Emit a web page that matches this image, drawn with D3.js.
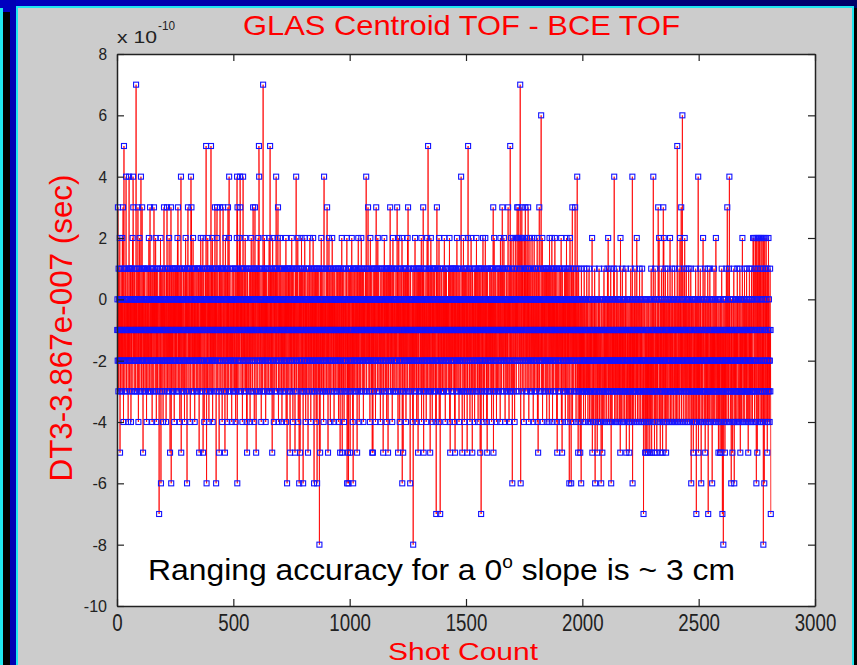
<!DOCTYPE html>
<html><head><meta charset="utf-8">
<script src="https://cdn.jsdelivr.net/npm/d3@7"></script>
<style>html,body{margin:0;padding:0;background:#000;overflow:hidden}</style>
</head><body>
<svg id="chart" width="857" height="665"></svg>
<script>
// ---- tick values ----
const xTicks = [0, 500, 1000, 1500, 2000, 2500, 3000];
const yTicks = [-10, -8, -6, -4, -2, 0, 2, 4, 6, 8];

// ---- DT3 - 3.867e-007, in units of 1e-10 s, one value per shot ----
const dt3Shots0001to0500 = [
-1,0,-2,3,-1,-3,1,-2,0,-1,-2,2,-5,-1,0,-3,-1,1,-2,0,
-1,-3,2,-2,0,3,-1,-4,1,5,-2,-1,0,-3,1,-1,-2,0,4,-1,
-3,0,-1,0,-2,1,-1,-4,0,-2,1,4,-1,-3,0,-2,1,-1,1,-4,
0,-2,-1,1,-3,0,2,-1,4,3,-2,0,-1,-3,1,-2,0,-1,0,-3,
-1,7,-2,0,-1,1,-3,-2,0,3,-1,-4,1,-2,0,-1,2,-3,-1,0,
-2,1,4,-1,-3,0,-2,3,-1,0,-2,-5,1,-1,-3,1,0,-2,-1,1,
-3,-1,0,-2,0,-1,-4,0,1,-2,-1,0,-3,1,-2,-1,2,0,-3,-1,
0,3,-2,-1,1,-3,0,-2,-1,1,-4,0,-1,1,-2,-3,0,-1,3,-2,
1,-1,0,-3,-2,2,-1,0,-4,1,-2,-1,0,-3,1,-1,-2,0,0,-1,
-7,-2,0,1,-1,-3,2,-2,-6,0,-1,1,-3,-2,0,-1,1,-4,-1,0,
-2,3,-1,0,-3,1,-2,-1,0,0,-4,-1,1,-2,3,0,-3,-1,1,-2,
0,-1,-3,2,-2,0,1,-5,-1,0,-2,3,-6,-1,1,-3,0,-2,-1,1,
-3,0,-1,1,-2,-4,0,-1,1,-2,1,-3,-1,0,-2,1,-1,-3,0,2,
-1,3,-2,0,-3,1,-1,-2,0,-4,1,-1,0,-2,4,-5,0,-1,1,-3,
-2,0,0,-1,-3,1,0,-2,-1,-4,0,1,-2,-1,2,-3,0,-1,1,-2,
-6,0,-1,1,3,-2,-1,0,-3,1,-1,-2,1,0,-4,-1,0,4,-2,3,
-1,0,-3,1,-2,-1,2,0,-3,-1,1,-2,0,-4,-1,1,-2,0,0,-1,
-3,0,1,-2,-1,0,-3,1,-1,-2,1,0,-5,-1,-2,1,0,-3,-1,2,
-2,0,-1,1,-3,-2,0,-1,2,-5,0,-1,1,-2,-4,0,-1,0,-3,1,
-1,0,5,-2,-6,0,1,-1,-3,2,-2,0,-1,1,-4,-2,0,-1,1,-3,
0,-2,-1,5,-3,1,0,-2,-1,2,-4,0,1,-1,-2,0,-3,1,-1,-2,
3,-1,0,-2,1,-6,0,-1,2,3,-3,-1,0,1,-2,-1,0,-3,-5,0,
1,-2,3,-1,0,-3,1,-2,-1,0,1,-4,-1,0,1,3,-2,-1,0,-3,
1,-1,-2,-5,0,2,-1,-3,0,1,-2,-1,0,-4,1,-2,3,-1,0,-3,
2,4,-1,-2,0,1,-3,-1,0,-2,0,-1,-4,0,1,-2,-1,0,-3,1
];
const dt3Shots0501to1000 = [
-1,0,-2,0,-3,-1,1,0,-2,-4,1,-1,0,-3,2,4,-6,3,-1,0,
-2,1,-1,-3,0,2,-2,-1,4,3,-1,0,-3,1,-2,0,-1,1,-4,0,
1,4,-2,-1,0,-3,1,-2,0,-1,2,-3,-1,0,1,-2,-4,0,-5,-1,
1,-2,0,-1,0,-3,-1,0,1,-2,-1,-4,0,1,-3,-1,2,0,-2,-1,
0,-3,1,-1,3,-2,0,-1,1,-4,-1,0,3,-2,1,-1,-3,-5,0,1,
-1,-2,0,1,-3,-1,2,0,-2,5,4,-1,0,-3,1,-2,-1,0,0,-4,
0,-1,1,-2,-3,0,-1,7,-2,0,1,-1,-3,2,-2,0,-1,1,-4,0,
-2,1,-1,0,-3,0,-1,-2,0,1,-1,-3,0,2,-2,-1,0,5,-3,1,
-1,0,-2,1,-3,-1,-5,0,2,-2,-1,0,1,-4,-2,0,-1,1,-3,0,
1,-2,-1,4,0,-3,1,-1,-2,0,2,3,-1,-4,0,-2,1,-1,0,-3,
2,-1,0,-2,1,-3,-1,0,-4,1,-2,-1,0,0,-3,-1,1,-2,0,-1,
-3,1,-2,0,-1,2,-4,0,-1,1,-6,-2,0,-1,1,-3,1,-1,0,-2,
-1,1,-3,-5,0,-2,1,-1,0,-3,2,-2,-1,0,1,-4,-1,0,-2,1,
-1,0,-3,0,-5,-1,0,1,-2,4,-1,-3,0,1,-2,-1,2,0,-4,-1,
0,-2,-6,1,-1,0,-5,-2,1,-1,0,-3,2,-1,-2,0,1,-3,-1,-6,
0,-1,1,-2,-3,0,2,-1,-2,0,-4,1,-1,0,-3,0,-2,-1,0,1,
-5,-1,0,-2,1,-3,-1,0,2,-2,-1,0,-4,1,-1,-2,0,-3,1,-1,
0,-2,2,-1,-3,0,-6,1,-1,-2,0,-3,1,-1,0,-4,1,-2,-1,-6,
0,1,-2,-1,0,-3,1,-1,-2,-8,0,-1,-5,1,-2,0,-1,2,-3,0,
-1,1,-2,0,-3,-1,0,-4,1,4,-2,-1,0,-3,0,-1,0,-2,1,-1,
-3,0,3,-1,-2,1,-5,0,-1,-2,2,-3,0,-1,1,-2,-4,0,-1,1,
-2,0,-1,-3,2,-1,0,-2,1,-1,-3,0,-4,1,-1,0,-2,0,-1,-3,
0,1,-2,-1,0,-3,1,-2,-1,0,1,-4,-1,0,-2,1,-3,-1,-5,0,
1,-2,-1,0,-3,2,-1,-5,0,1,-2,-1,0,-3,1,-4,-1,0,0,-2,
-1,0,-3,1,-2,-1,0,2,-6,-1,-3,0,-5,1,-6,-2,0,-1,1,-3
];
const dt3Shots1001to1500 = [
-1,-5,0,1,-2,-1,-3,0,2,-1,-2,0,-4,1,-6,-1,0,-2,1,-3,
-1,0,1,-2,-1,0,-3,1,-1,-2,0,-5,1,-1,-3,0,2,-2,-1,0,
-4,1,-1,0,-2,-3,1,0,-1,2,-2,-1,0,-3,1,-1,-2,0,-4,1,
-1,0,-2,0,-3,-1,0,1,-2,-1,4,0,-3,-1,1,-2,0,-1,3,-2,
0,-1,-3,1,-2,0,-4,-1,2,0,-2,-1,1,-3,0,-1,-5,-2,0,-5,
1,-1,-2,0,-3,1,-1,0,-2,1,-4,-1,0,3,-2,-1,1,0,-3,-1,
2,-2,0,-1,1,-3,-1,0,-2,0,-1,-4,0,1,-2,-1,0,-3,1,-1,
0,-2,-1,-5,1,0,-3,-1,2,-2,0,-1,1,-3,-2,0,-1,1,-4,0,
-1,1,-2,0,-5,-1,1,-3,0,-2,-1,1,0,3,-1,-3,1,-2,0,-1,
-2,1,-4,0,-1,2,-3,-1,0,1,-2,-1,0,-3,0,-1,-2,0,1,-3,
-1,0,-2,3,-1,1,-3,-5,0,-1,2,-2,0,-1,-4,1,-2,0,-1,-3,
1,0,-2,-1,2,-6,0,-1,-3,-5,1,-2,0,-1,1,-3,-1,0,-2,1,
-1,-4,0,1,-2,-1,0,-3,2,-1,3,-2,0,-1,1,-3,-2,0,-1,-6,
0,1,-2,-1,-3,0,0,-1,-2,0,-4,1,-8,-1,0,-2,1,-3,-1,0,
2,-2,-1,0,-3,1,-1,-4,0,-2,1,-1,0,-5,-2,1,-3,0,-1,1,
-1,0,-3,1,-2,-1,0,2,-4,-1,0,-2,1,-3,-1,3,0,-5,1,-2,
-1,0,-3,0,-2,-1,0,1,-4,-1,0,-2,2,-3,-1,0,5,-2,-1,1,
-3,0,-1,-2,1,-5,0,-1,2,-3,-2,0,1,-1,-4,0,-2,1,-1,0,
-3,1,-1,-2,0,1,-3,-1,0,-4,-2,-7,1,-1,3,-2,0,-1,1,-3,
0,-2,-1,2,-4,0,-1,1,-7,-2,0,-1,-3,1,-2,0,0,-1,-3,0,
-1,1,-2,0,-3,-1,2,-2,0,-1,-4,1,-1,0,-2,1,-3,0,-1,0,
-2,-1,0,-3,1,-1,-2,0,2,-4,-1,-5,0,1,-2,-1,0,-3,1,-1,
0,-2,1,-1,-3,0,1,-2,-1,0,-4,1,-5,-1,0,-2,1,-3,-1,0,
2,-2,-1,0,-3,1,-1,-2,0,-4,1,-1,0,-2,0,-3,-1,0,4,-2,
-1,0,-3,-5,1,-1,0,-2,2,-1,-3,0,-4,1,-2,-1,0,1,-3,-1
];
const dt3Shots1501to2000 = [
0,-2,1,-1,-5,0,-3,2,5,-1,-2,0,1,-3,-1,0,-4,1,-2,-1,
0,2,-3,-1,0,-2,-5,1,-1,0,-3,0,-2,-1,0,1,-4,-1,0,-2,
1,-3,-1,0,2,-2,-1,0,-3,1,-1,-4,0,-2,1,-1,0,-3,1,-2,
-5,0,-1,1,-7,-2,0,-1,-3,1,-2,0,2,-1,-4,0,-1,1,-3,-2,
0,-1,2,-2,-1,0,-3,1,-4,-1,-5,0,1,-2,-1,0,-3,0,-1,0,
-2,1,-1,-3,0,-2,1,-1,0,-4,1,-1,-2,0,-3,1,3,-5,0,-1,
2,-2,-1,0,-3,1,-1,-2,0,0,-4,-1,0,1,-3,-2,0,-1,1,-1,
-3,0,1,-2,-1,0,-4,2,-1,-2,0,1,-3,-1,0,3,-2,-1,1,0,
-3,-1,2,-2,0,-1,1,-4,0,-2,-1,0,-3,0,1,-1,-2,0,-3,1,
3,-1,0,-2,-4,1,-1,0,-3,5,-2,-1,0,2,-3,-1,0,1,-6,-2,
0,-1,2,-3,-1,0,1,-2,-4,0,-1,2,-2,-1,0,-3,1,-1,2,3,
-2,0,-1,2,3,-1,-3,0,2,-2,-1,1,7,0,-6,-1,2,-2,0,3,
-1,-3,1,0,2,-2,-1,0,-4,1,-1,2,-2,0,3,-1,-3,1,0,-2,
-1,2,-3,0,1,-2,3,-1,0,-4,1,-1,-2,0,2,-3,-1,0,1,-2,
-1,0,-3,2,-2,-1,0,1,-4,-1,0,-2,2,-3,-1,0,1,-2,-1,0,
-3,1,-1,-2,0,2,-4,-1,0,-5,1,-2,-1,0,3,-3,-1,0,0,-2,
-1,1,6,-3,0,-2,-1,2,-4,0,-1,1,-2,-3,0,-1,1,-2,0,-1,
-3,1,0,-2,-1,1,-4,-1,0,1,-2,-3,0,-1,1,-2,0,-4,2,-1,
0,-2,-1,1,-3,0,-1,-2,2,-1,0,-4,1,-2,-1,0,-3,1,-1,0,
-2,2,-1,-3,0,1,-2,-1,0,-4,1,-5,0,-1,-2,0,-3,-1,0,1,
-2,-1,0,-3,1,-1,-2,0,2,-4,-1,0,-5,1,-2,-1,0,-3,0,-1,
0,-2,1,-1,-3,0,-4,1,-2,-1,0,2,-3,-1,0,-2,1,-4,-1,0,
-2,1,-3,-6,0,-1,2,-2,-1,0,-3,-6,1,-1,-2,0,3,-4,-1,0,
-2,1,-3,-1,0,-2,0,-1,3,-3,0,-1,-4,1,-2,-1,0,4,-3,-1,
0,-5,-2,1,-1,-3,0,-4,-1,-2,-5,0,-3,-1,-6,1,-2,-1,-3,0
];
const dt3Shots2001to2500 = [
-2,-1,-3,0,-4,-1,-2,1,-3,-2,0,-1,-4,-3,-1,0,-2,-3,1,-1,
-3,-2,0,-4,-1,-2,-3,0,1,-2,-4,-1,-3,0,-2,-1,-3,-4,0,-2,
-1,2,-5,-3,-1,0,-2,-4,-1,-3,0,-2,1,-3,-6,-1,-2,0,-4,-3,
-1,-2,0,-5,-3,-1,-4,-2,0,-1,-3,1,-2,-4,-1,0,-3,-2,-1,-4,
-6,-2,0,-1,-3,-5,-2,-1,0,-4,-3,-1,1,-2,-3,0,-4,-1,-2,-3,
0,-2,-1,-3,-4,0,-2,1,-1,-3,2,-2,-4,0,-1,-3,-2,0,-1,-4,
-2,1,-3,-6,-1,0,-2,-4,-1,-3,0,-2,-1,-3,1,-2,4,-1,-4,-2,
0,-3,-1,-2,-4,0,-1,-3,1,-2,-1,-4,0,-2,-3,-1,0,-2,-4,-1,
-3,0,-5,2,-2,-1,-3,-4,0,-1,-2,1,-3,-1,-4,0,-2,-3,-1,0,
-2,-4,-1,-3,0,-2,1,-1,-5,-3,-2,0,-4,-1,-3,-2,0,-1,-3,-4,
-1,-5,-2,0,-3,-1,-4,1,-2,-3,0,-1,-4,-2,4,-6,-1,-3,0,-2,
-4,-1,-3,0,-2,1,-1,-3,-4,0,-2,-1,-3,2,-2,0,-4,-1,-3,-2,
0,-1,-3,-4,-2,1,-1,-3,0,-2,-4,-1,-3,0,-2,-1,1,-4,-3,-2,
-1,0,-7,-2,-4,-3,-1,0,-2,-5,-3,-1,-4,0,-5,-2,-1,-3,0,-4,
-2,-5,-1,-3,0,-4,-2,-1,-3,-5,0,-2,-4,-1,-3,1,-2,-5,-1,-3,
0,-2,-4,-1,4,-3,-2,0,-1,-5,-3,-2,1,-4,-1,0,-3,-2,-1,-5,
-2,0,-3,-1,-4,3,-2,-1,0,2,-3,-4,-1,-2,-5,0,-3,-1,-2,1,
-4,-3,-1,0,-5,-2,-1,3,-3,2,-2,-4,0,-1,-3,-2,1,-4,-1,-5,
-3,0,-2,-1,-4,-3,1,-2,-1,0,-3,-4,-2,-1,0,-3,2,-2,-4,-1,
-3,0,-1,-2,-4,1,-3,-1,0,-2,-3,-4,-1,0,-2,-3,1,-1,-4,-2,
0,-3,-1,-2,-4,0,-1,5,-3,-2,-4,-1,0,-3,-2,1,-1,-4,-3,2,
-2,0,-1,-3,3,-4,-1,-2,0,6,-3,-1,-2,-4,0,-1,1,-3,-2,2,
-1,-4,0,-2,-3,-1,1,-2,-4,0,-3,-1,-2,0,-4,-3,1,-1,-2,-3,
0,-4,-1,-2,-3,1,-1,-6,0,-2,-3,-4,-1,0,-2,-3,-5,-1,0,-4,
-2,-1,-3,0,-4,-2,1,-1,-3,-7,0,-2,-4,-1,-3,0,-2,4,-5,-1
];
const dt3Shots2501to2810 = [
-3,0,-2,-4,-1,-3,1,-2,0,-4,-6,-1,-3,-2,0,-1,-4,-3,2,-2,
-1,0,-3,-4,-2,-1,1,-5,-3,0,-2,-4,-1,-3,0,-2,-1,-4,1,-3,
-7,-2,0,-1,-3,-4,-2,1,-1,-3,0,-2,-4,-1,-3,-2,0,-6,-1,-3,
-2,0,-4,-1,-3,1,-2,-1,-4,0,-3,-2,-1,2,-3,-4,0,-1,-2,-3,
-1,-4,0,-2,-5,-1,-3,0,-4,-2,-1,-5,-3,0,-2,-1,-4,-5,1,-3,
-2,-7,-1,-3,0,-8,-2,-1,-4,0,-3,-2,-5,-1,-4,0,-2,-3,1,-1,
-4,-2,3,-1,-3,0,-2,-4,-1,1,-3,4,-2,-1,0,-4,-3,-2,-1,-6,
0,-3,-1,-2,-5,-4,0,-1,-3,-2,1,-4,-6,-1,-3,0,-2,-4,-1,-3,
0,-2,-1,-4,-3,1,-2,0,-1,-4,-3,-2,0,-1,-3,-4,1,-2,-5,-1,
-3,0,-2,-4,-1,-3,0,2,-2,-1,-4,-3,0,-1,-2,-4,1,-3,-1,-2,
0,-3,-1,-2,-4,1,-3,-1,0,-2,-4,-3,-5,-1,0,-2,-3,1,-4,-1,
-2,0,-3,-1,-4,-2,1,-3,0,-1,-4,-2,-3,2,-1,0,2,-3,-2,-4,
1,-1,-3,2,0,-2,-4,-6,2,-1,-3,-5,1,-2,2,0,-4,-1,2,-3,
-1,2,-2,-4,0,1,-3,2,-1,-4,-2,0,2,-3,-1,-4,1,-8,2,-2,
-3,-6,0,2,-1,-4,-2,1,-3,2,-1,0,-4,-2,-5,1,-3,-1,-4,2,
-2,0,-3,-1,-4,-2,1,-3,-1,-7
];

const dt3 = [].concat(dt3Shots0001to0500, dt3Shots0501to1000, dt3Shots1001to1500,
                      dt3Shots1501to2000, dt3Shots2001to2500, dt3Shots2501to2810);
const points = dt3.map((v, i) => ({ shot: i + 1, v: v }));

const svg = d3.select('#chart');
const W = 857, H = 665;
const sans = "'Liberation Sans', Arial, sans-serif";

// ---- window frame ----
const defs = svg.append('defs');
const grad = defs.append('linearGradient').attr('id', 'topband').attr('x1', 0).attr('x2', 1);
grad.append('stop').attr('offset', '0%').attr('stop-color', '#0000c0');
grad.append('stop').attr('offset', '100%').attr('stop-color', '#000068');
svg.append('rect').attr('x', 0).attr('y', 0).attr('width', W).attr('height', H).attr('fill', '#000');
svg.append('rect').attr('x', 0).attr('y', 0).attr('width', W).attr('height', 8).attr('fill', 'url(#topband)');
svg.append('rect').attr('x', 0).attr('y', 8).attr('width', 3).attr('height', H).attr('fill', '#20e8f0');
svg.append('rect').attr('x', 3).attr('y', 0).attr('width', 7).attr('height', 12).attr('fill', '#0000c0');
svg.append('rect').attr('x', 10).attr('y', 0).attr('width', 6).attr('height', H).attr('fill', '#0000b4');
svg.append('rect').attr('x', 16).attr('y', 6).attr('width', 838).attr('height', H).attr('fill', '#1ee6f0');
svg.append('rect').attr('x', 18).attr('y', 8).attr('width', 834).attr('height', H).attr('fill', '#cccccc');

// ---- scales ----
const x = d3.scaleLinear().domain([0, 3000]).range([117, 815]);
const y = d3.scaleLinear().domain([-10, 8]).range([606, 54]);

// plot area
svg.append('rect').attr('x', x(0)).attr('y', y(8))
  .attr('width', x(3000) - x(0)).attr('height', y(-10) - y(8)).attr('fill', '#fff');

// ---- data ----
const line = d3.line().x(d => x(d.shot)).y(d => y(d.v));
svg.append('path').datum(points).attr('d', line)
  .attr('fill', 'none').attr('stroke', '#ff0000').attr('stroke-width', 0.8);
svg.append('g').selectAll('rect').data(points).join('rect')
  .attr('x', d => x(d.shot) - 2.5).attr('y', d => y(d.v) - 2.5)
  .attr('width', 5).attr('height', 5)
  .attr('fill', 'none').attr('stroke', '#1414ff').attr('stroke-width', 1.1);

// ---- axes ----
const axisColor = '#222';
function styleAxis(g) {
  g.selectAll('path.domain').attr('stroke', axisColor).attr('stroke-width', 1.5);
  g.selectAll('.tick line').attr('stroke', axisColor).attr('stroke-width', 1.2);
  g.selectAll('.tick text').attr('fill', '#222').style('font-family', sans);
}
svg.append('g').attr('transform', `translate(0,${y(-10)})`)
  .call(d3.axisBottom(x).tickValues(xTicks).tickFormat(d => String(d))
    .tickSizeInner(-7).tickSizeOuter(0).tickPadding(9))
  .call(g => {
    styleAxis(g);
    g.selectAll('.tick text').style('font-size', '23px')
      .attr('textLength', d => String(d).length * 10.4).attr('lengthAdjust', 'spacingAndGlyphs');
  });
svg.append('g').attr('transform', `translate(0,${y(8)})`)
  .call(d3.axisTop(x).tickValues(xTicks).tickFormat('').tickSizeInner(-7).tickSizeOuter(0))
  .call(styleAxis);
svg.append('g').attr('transform', `translate(${x(0)},0)`)
  .call(d3.axisLeft(y).tickValues(yTicks).tickFormat(d => String(d))
    .tickSizeInner(-7).tickSizeOuter(0).tickPadding(10))
  .call(g => {
    styleAxis(g);
    g.selectAll('.tick text').style('font-size', '17px')
      .attr('textLength', d => { const s = String(d); return s.replace('-', '').length * 8.6 + (s[0] === '-' ? 6 : 0); })
      .attr('lengthAdjust', 'spacingAndGlyphs');
  });
svg.append('g').attr('transform', `translate(${x(3000)},0)`)
  .call(d3.axisRight(y).tickValues(yTicks).tickFormat('').tickSizeInner(-7).tickSizeOuter(0))
  .call(styleAxis);

// exponent label
svg.append('text').attr('x', 117).attr('y', 43)
  .attr('textLength', 40).attr('lengthAdjust', 'spacingAndGlyphs')
  .attr('fill', '#222').style('font-family', sans).style('font-size', '16px').text('x 10');
svg.append('text').attr('x', 158).attr('y', 30)
  .attr('textLength', 17).attr('lengthAdjust', 'spacingAndGlyphs')
  .attr('fill', '#222').style('font-family', sans).style('font-size', '12px').text('-10');

// ---- titles ----
svg.append('text').attr('x', 243).attr('y', 35)
  .attr('textLength', 437).attr('lengthAdjust', 'spacingAndGlyphs')
  .attr('fill', '#ff0000').style('font-family', sans).style('font-size', '28px')
  .text('GLAS Centroid TOF - BCE TOF');
svg.append('text').attr('x', 388).attr('y', 660)
  .attr('textLength', 150).attr('lengthAdjust', 'spacingAndGlyphs')
  .attr('fill', '#ff0000').style('font-family', sans).style('font-size', '23px')
  .text('Shot Count');
svg.append('text').attr('transform', 'translate(72,328) rotate(-90)')
  .attr('text-anchor', 'middle')
  .attr('textLength', 307).attr('lengthAdjust', 'spacingAndGlyphs')
  .attr('fill', '#ff0000').style('font-family', sans).style('font-size', '31px')
  .text('DT3-3.867e-007 (sec)');

// ---- annotation ----
const note = svg.append('text').attr('x', 148).attr('y', 580)
  .attr('textLength', 587).attr('lengthAdjust', 'spacingAndGlyphs')
  .attr('fill', '#000').style('font-family', sans).style('font-size', '30px');
note.append('tspan').text('Ranging accuracy for a 0');
note.append('tspan').attr('dy', -12).style('font-size', '18px').text('o');
note.append('tspan').attr('dy', 12).text(' slope is ~ 3 cm');
</script>
</body></html>
